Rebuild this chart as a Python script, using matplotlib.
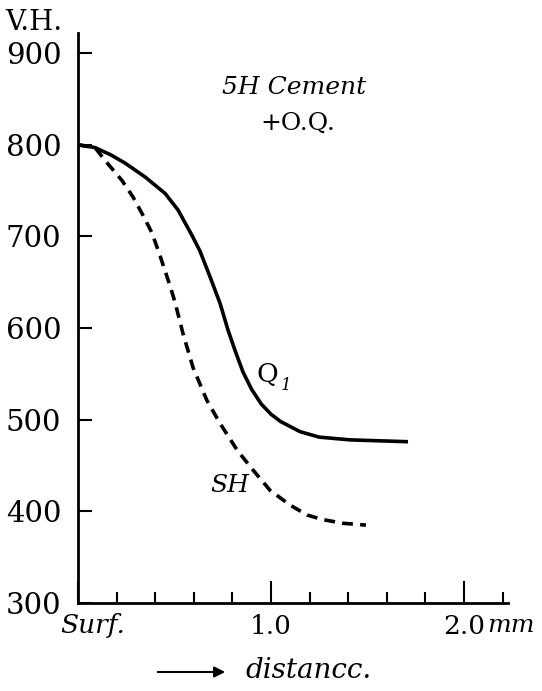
import matplotlib
matplotlib.use("Agg")
import matplotlib.pyplot as plt
from matplotlib.ticker import MultipleLocator, FixedLocator

# distance from surface (mm) and Vickers hardness
q1_dist = [0.0, 0.088, 0.17, 0.244, 0.347, 0.451, 0.518, 0.591, 0.632, 0.684,
           0.736, 0.777, 0.813, 0.855, 0.90, 0.95, 1.0, 1.05, 1.15, 1.25,
           1.41, 1.71]
q1_vh = [800, 797, 789, 780, 765, 747, 729, 701, 684, 656,
         627, 598, 576, 552, 533, 517, 506, 498, 487, 481,
         478, 476]

sh_dist = [0.0, 0.088, 0.14, 0.228, 0.285, 0.337, 0.383, 0.425, 0.477, 0.503,
           0.544, 0.596, 0.668, 0.736, 0.824, 0.907, 0.995, 1.098, 1.187,
           1.269, 1.373, 1.492]
sh_vh = [800, 797, 783, 761, 743, 723, 704, 679, 646, 628,
         594, 557, 521, 496, 467, 445, 423, 407, 396,
         391, 387, 385]

y_ticks = [300, 400, 500, 600, 700, 800, 900]
x_major = [0, 1.0, 2.0]
x_labels = ["", "1.0", "2.0"]

W, H = 542, 691
plt.rcParams['font.family'] = ['DejaVu Serif']

fig = plt.figure(figsize=(W / 100, H / 100), dpi=100)
ax = fig.add_axes([78 / W, 88 / H, 430 / W, 570 / H])

ax.plot(q1_dist, q1_vh, color="black", lw=2.6, solid_capstyle="butt",
        solid_joinstyle="round")
ax.plot(sh_dist, sh_vh, color="black", lw=2.6, linestyle=(0, (3, 2)))

ax.set_xlim(0, 2.228)
ax.set_ylim(300, 922)

for s in ["top", "right"]:
    ax.spines[s].set_visible(False)
for s in ["left", "bottom"]:
    ax.spines[s].set_linewidth(2)

ax.set_yticks(y_ticks)
ax.set_yticklabels([str(v) for v in y_ticks])
ax.tick_params(axis="y", direction="in", length=10, width=1.5, pad=12,
               labelsize=21)

ax.xaxis.set_major_locator(FixedLocator(x_major))
ax.set_xticklabels(x_labels)
ax.xaxis.set_minor_locator(MultipleLocator(0.2))
ax.tick_params(axis="x", which="major", direction="in", length=16, width=1.5,
               pad=8, labelsize=19)
ax.tick_params(axis="x", which="minor", direction="in", length=8, width=1.5)


def ftext(x, y, s, **kw):
    # place text by pixel position in the original picture
    fig.text(x / W, 1 - y / H, s, **kw)


ftext(5, 22, "V.H.", fontsize=20, va="center", ha="left")
ftext(222, 88, "5H Cement", fontsize=18, style="italic", va="center", ha="left")
ftext(260, 123, "+O.Q.", fontsize=18, va="center", ha="left")
ftext(257, 374, "Q", fontsize=19, va="center", ha="left")
ftext(281, 386, "1", fontsize=12, style="italic", va="center", ha="left")
ftext(210, 485, "SH", fontsize=18, style="italic", va="center", ha="left")
ftext(60, 625, "Surf.", fontsize=19, style="italic", va="center", ha="left")
ftext(487, 625, "mm", fontsize=18, style="italic", va="center", ha="left")
ftext(245, 670, "distancc.", fontsize=20, style="italic", va="center", ha="left")

ax.annotate("", xy=(228 / W, 1 - 672 / H), xytext=(155 / W, 1 - 672 / H),
            xycoords="figure fraction", textcoords="figure fraction",
            arrowprops=dict(arrowstyle="-|>", color="black", lw=1.5,
                            mutation_scale=16))

fig.savefig("out.png", dpi=100, facecolor="white")
